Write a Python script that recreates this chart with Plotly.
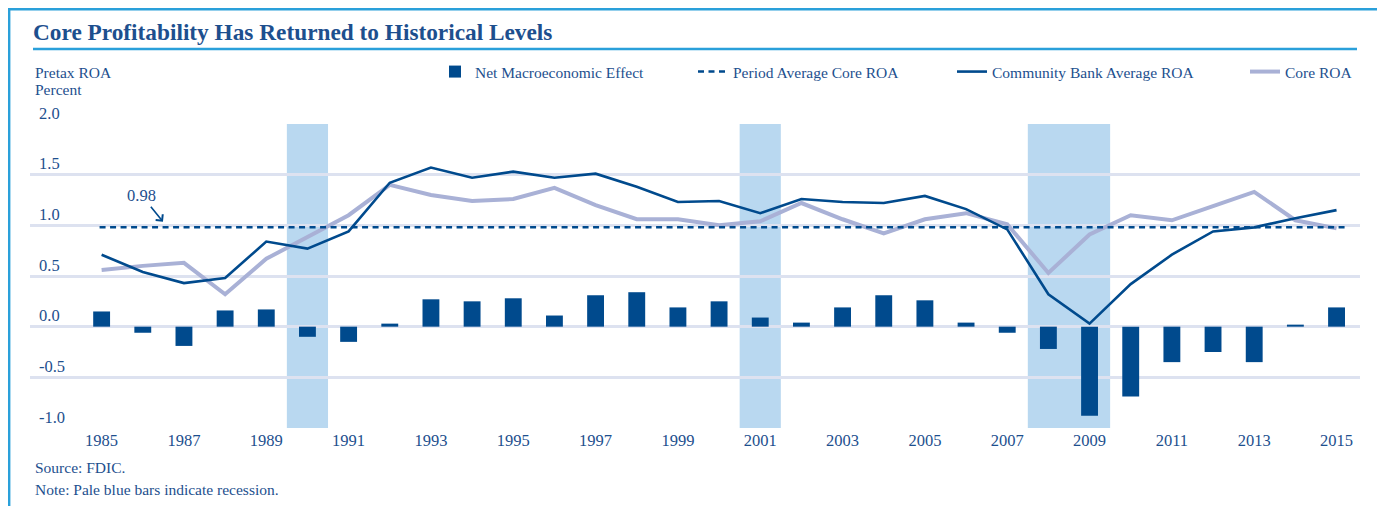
import plotly.graph_objects as go

# ---------------- data ----------------
years = list(range(1985, 2016))
net_macro = [0.15, -0.06, -0.19, 0.16, 0.17, -0.10, -0.15, 0.03, 0.27, 0.25, 0.28, 0.11,
             0.31, 0.34, 0.19, 0.25, 0.09, 0.04, 0.19, 0.31, 0.26, 0.04, -0.06, -0.22,
             -0.88, -0.69, -0.35, -0.25, -0.35, 0.02, 0.19]
community_roa = [0.71, 0.54, 0.43, 0.48, 0.84, 0.77, 0.94, 1.42, 1.57, 1.47, 1.53, 1.47,
                 1.51, 1.38, 1.23, 1.24, 1.12, 1.26, 1.23, 1.22, 1.29, 1.16, 0.96, 0.32,
                 0.03, 0.42, 0.71, 0.94, 0.98, 1.07, 1.15]
core_roa = [0.56, 0.60, 0.63, 0.32, 0.67, 0.88, 1.10, 1.40, 1.30, 1.24, 1.26, 1.37,
            1.20, 1.06, 1.06, 1.00, 1.04, 1.22, 1.06, 0.92, 1.06, 1.12, 1.01, 0.53,
            0.91, 1.10, 1.05, 1.19, 1.33, 1.05, 0.97]
period_avg = 0.98
rec_start = [1989.5, 2000.5, 2007.5]
rec_end = [1990.5, 2001.5, 2009.5]
x_ticks = list(range(1985, 2016, 2))
y_ticks = [-1.0, -0.5, 0.0, 0.5, 1.0, 1.5, 2.0]
y_ticktext = ["-1.0", "-0.5", "0.0", "0.5", "1.0", "1.5", "2.0"]

# ---------------- styles ----------------
DARK = "#004a8d"
CORE = "#a9b1d6"
REC = "#b9d8f0"
GRID = "#dde2f0"
TXT = "#1d4f8e"
BORDER = "#2aa0da"
FONT = "Liberation Serif"

OFF = 8  # page body margin
W, H = 1385 - OFF, 506 - OFF
L, R, T, B = 22, 25, 116, 78
PW, PH = W - L - R, H - T - B


def px(xp):
    """window pixel x -> paper x"""
    return (xp - OFF - L) / PW


def py(yp):
    """window pixel y -> paper y"""
    return (H - B - (yp - OFF)) / PH


fig = go.Figure()

fig.add_trace(go.Bar(x=years, y=net_macro, width=0.41, marker=dict(color=DARK, line_width=0),
                     name="Net Macroeconomic Effect", legend="legend"))
fig.add_trace(go.Scatter(x=years, y=core_roa, mode="lines", line=dict(color=CORE, width=4),
                         name="Core ROA", legend="legend4"))
fig.add_trace(go.Scatter(x=years, y=community_roa, mode="lines", line=dict(color=DARK, width=2.6),
                         name="Community Bank Average ROA", legend="legend3"))
fig.add_trace(go.Scatter(x=[years[0] - 0.05, years[-1] + 0.3], y=[period_avg, period_avg], mode="lines",
                         line=dict(color=DARK, width=2.5, dash="6px,4.5px"),
                         name="Period Average Core ROA", legend="legend2"))

shapes = []
for s, e in zip(rec_start, rec_end):
    shapes.append(dict(type="rect", xref="x", yref="paper", x0=s, x1=e, y0=0, y1=1,
                       fillcolor=REC, line_width=0, layer="between"))
shapes.append(dict(type="line", xref="paper", yref="y", x0=0, x1=1, y0=0, y1=0,
                   line=dict(color="#2f64a0", width=2), layer="between"))
# title underline
shapes.append(dict(type="line", xref="paper", yref="paper", x0=px(33), x1=px(1357),
                   y0=py(49), y1=py(49), line=dict(color=BORDER, width=2.5)))
# outer border
shapes.append(dict(type="rect", xref="paper", yref="paper", x0=px(9.2), x1=px(1381),
                   y0=py(525), y1=py(9.2), line=dict(color=BORDER, width=2.4),
                   fillcolor="rgba(0,0,0,0)"))

annotations = [
    dict(text="Pretax ROA", xref="paper", yref="paper", x=px(33), y=py(72), xanchor="left",
         yanchor="middle", showarrow=False, font=dict(family=FONT, size=15.5, color=TXT)),
    dict(text="Percent", xref="paper", yref="paper", x=px(33), y=py(90), xanchor="left",
         yanchor="middle", showarrow=False, font=dict(family=FONT, size=15.5, color=TXT)),
    dict(text="Source: FDIC.", xref="paper", yref="paper", x=px(33), y=py(467), xanchor="left",
         yanchor="middle", showarrow=False, font=dict(family=FONT, size=15.5, color=TXT)),
    dict(text="Note: Pale blue bars indicate recession.", xref="paper", yref="paper", x=px(33),
         y=py(489), xanchor="left", yanchor="middle", showarrow=False,
         font=dict(family=FONT, size=15.5, color=TXT)),
    dict(text=f"{period_avg:.2f}", x=1986.49, y=1.035, xref="x", yref="y", showarrow=True,
         ax=-21, ay=-26, arrowhead=4, arrowsize=1.1, arrowwidth=1.6, arrowcolor=DARK,
         font=dict(family=FONT, size=16.5, color=TXT)),
]

legend_common = dict(orientation="h", yanchor="middle", y=py(72), xanchor="left",
                     bgcolor="rgba(0,0,0,0)", font=dict(family=FONT, size=15.5, color=TXT),
                     itemwidth=30)

fig.update_layout(
    width=W, height=H,
    margin=dict(l=L, r=R, t=T, b=B),
    paper_bgcolor="white", plot_bgcolor="white",
    title=dict(text="Core Profitability Has Returned to Historical Levels",
               x=(33 - OFF) / W, xanchor="left", xref="container", y=1 - (32 - OFF) / H,
               yref="container", yanchor="middle",
               font=dict(family=FONT, size=23.3, color=TXT, weight="bold")),
    xaxis=dict(range=[1983.26, 2015.57], tickvals=x_ticks, ticktext=[str(v) for v in x_ticks],
               showgrid=False, zeroline=False, showline=False, ticks="",
               tickfont=dict(family=FONT, size=16.5, color=TXT)),
    yaxis=dict(range=[-1, 2], tickvals=y_ticks, ticktext=y_ticktext, showgrid=True,
               gridcolor=GRID, gridwidth=3, zeroline=False, showline=False, ticks="",
               ticklabelposition="inside", ticklabelshift=-11, ticklabelstandoff=6,
               ticklabeloverflow="allow",
               tickfont=dict(family=FONT, size=16.5, color=TXT)),
    shapes=shapes,
    annotations=annotations,
    legend=dict(legend_common, x=px(435)),
    legend2=dict(legend_common, x=px(693)),
    legend3=dict(legend_common, x=px(952)),
    legend4=dict(legend_common, x=px(1245)),
    showlegend=True,
)

fig.write_html("out.html")
